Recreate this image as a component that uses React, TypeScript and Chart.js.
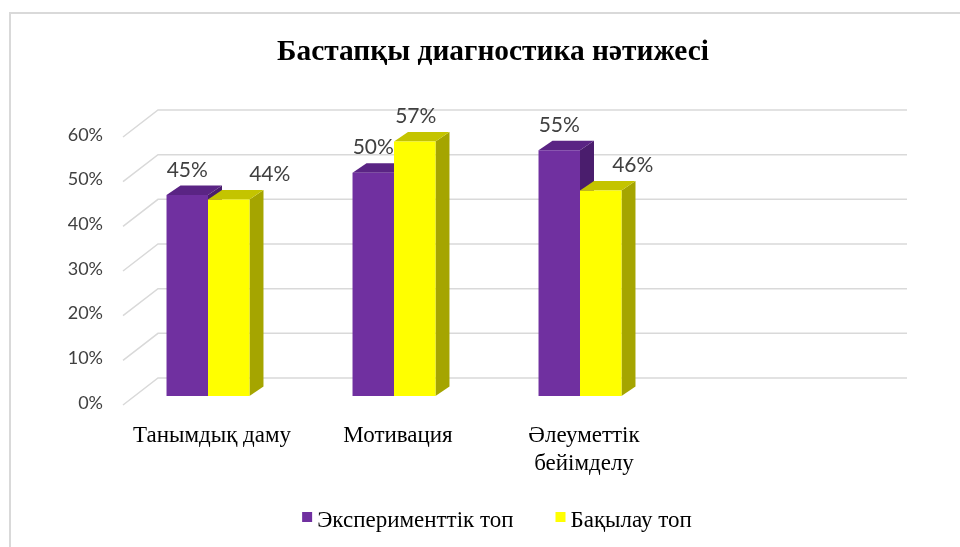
import { useEffect, useRef } from "react";
import { Chart, registerables } from "chart.js";

Chart.register(...registerables);

const TITLE = "Бастапқы диагностика нәтижесі";
const CATEGORIES: string[][] = [["Танымдық даму"], ["Мотивация"], ["Әлеуметтік", "бейімделу"], [""]];
const SERIES_NAMES = ["Эксперименттік топ", "Бақылау топ"];
const EXPERIMENTAL: (number | null)[] = [45, 50, 55, null];
const CONTROL: (number | null)[] = [44, 57, 46, null];
const Y_TICKS = [0, 10, 20, 30, 40, 50, 60];

const FRONT_COLORS = ["#7030A0", "#FFFF00"];
const TOP_COLORS = ["#5A2484", "#C4C400"];
const SIDE_COLORS = ["#4A1D6D", "#A5A500"];
// Excel label placement nudges (px) per series/category
const LABEL_SHIFT = [
  [0, 0, 0, 0],
  [41, 1, 32, 0],
];

const SERIF = '"Liberation Serif", "Times New Roman", serif';
const SANS = 'Lato, "Open Sans", sans-serif';

const excel3d = {
  id: "excel3d",
  beforeDatasetsDraw(chart: any) {
    const { ctx, chartArea: area, scales } = chart;
    const y = scales.y;
    const wallLeft = area.left + 43;
    const wallRight = area.right + 48;
    ctx.save();
    ctx.strokeStyle = "#D9D9D9";
    ctx.lineWidth = 1.5;
    Y_TICKS.forEach((v) => {
      const yb = y.getPixelForValue(v) - 18;
      ctx.beginPath();
      ctx.moveTo(wallLeft - 35, yb + 27);
      ctx.lineTo(wallLeft, yb);
      ctx.lineTo(wallRight, yb);
      ctx.stroke();
      ctx.fillStyle = "#404040";
      ctx.font = `18px ${SANS}`;
      ctx.textAlign = "right";
      ctx.textBaseline = "middle";
      ctx.fillText(`${v}%`, 103, yb + 25);
    });
    const D = 14;
    const H = 9.5;
    chart.data.datasets.forEach((ds: any, i: number) => {
      const meta = chart.getDatasetMeta(i);
      meta.data.forEach((el: any, j: number) => {
        if (ds.data[j] == null) return;
        const p = el.getProps(["x", "y", "base", "width"], true);
        const l = p.x - p.width / 2;
        const r = p.x + p.width / 2;
        ctx.fillStyle = SIDE_COLORS[i];
        ctx.beginPath();
        ctx.moveTo(r, p.y);
        ctx.lineTo(r + D, p.y - H);
        ctx.lineTo(r + D, p.base - H);
        ctx.lineTo(r, p.base);
        ctx.closePath();
        ctx.fill();
        ctx.fillStyle = TOP_COLORS[i];
        ctx.beginPath();
        ctx.moveTo(l, p.y);
        ctx.lineTo(l + D, p.y - H);
        ctx.lineTo(r + D, p.y - H);
        ctx.lineTo(r, p.y);
        ctx.closePath();
        ctx.fill();
      });
    });
    ctx.restore();
  },
  afterDatasetsDraw(chart: any) {
    const { ctx, scales } = chart;
    const x = scales.x;
    ctx.save();
    // data labels
    ctx.fillStyle = "#404040";
    ctx.font = `21px ${SANS}`;
    ctx.textAlign = "center";
    ctx.textBaseline = "middle";
    chart.data.datasets.forEach((ds: any, i: number) => {
      const meta = chart.getDatasetMeta(i);
      meta.data.forEach((el: any, j: number) => {
        const v = ds.data[j];
        if (v == null) return;
        ctx.fillText(`${v}%`, el.x + LABEL_SHIFT[i][j], el.y - 25);
      });
    });
    // category labels
    ctx.fillStyle = "#000000";
    ctx.font = `23px ${SERIF}`;
    CATEGORIES.forEach((lines, i) => {
      const cx = x.getPixelForValue(i) + 4;
      lines.forEach((t, k) => {
        ctx.fillText(t, cx, 436 + k * 28);
      });
    });
    // title
    ctx.font = `bold 29px ${SERIF}`;
    ctx.textBaseline = "alphabetic";
    const tw = ctx.measureText(TITLE).width;
    const target = 432;
    ctx.save();
    ctx.translate(493, 60);
    ctx.scale(target / tw, 1);
    ctx.fillText(TITLE, 0, 0);
    ctx.restore();
    // legend
    ctx.font = `23px ${SERIF}`;
    ctx.textAlign = "left";
    const widths = SERIES_NAMES.map((n) => ctx.measureText(n).width);
    const gap = 42;
    const total = widths.reduce((a, b) => a + b, 0) + SERIES_NAMES.length * 15 + (SERIES_NAMES.length - 1) * gap;
    let lx = 497 - total / 2;
    SERIES_NAMES.forEach((n, i) => {
      ctx.fillStyle = FRONT_COLORS[i];
      ctx.fillRect(lx, 512, 10, 10);
      ctx.fillStyle = "#000000";
      ctx.fillText(n, lx + 15, 527);
      lx += 15 + widths[i] + gap;
    });
    // chart frame
    ctx.strokeStyle = "#D9D9D9";
    ctx.lineWidth = 2;
    ctx.beginPath();
    ctx.moveTo(10, 560);
    ctx.lineTo(10, 13);
    ctx.lineTo(970, 13);
    ctx.stroke();
    ctx.restore();
  },
};

export default function App() {
  const ref = useRef<HTMLCanvasElement>(null);
  useEffect(() => {
    document.body.style.margin = "0";
    const chart = new Chart(ref.current as HTMLCanvasElement, {
      type: "bar",
      data: {
        labels: CATEGORIES.map((c) => c.join(" ")),
        datasets: [
          { label: SERIES_NAMES[0], data: EXPERIMENTAL, backgroundColor: FRONT_COLORS[0], borderWidth: 0, categoryPercentage: 0.446, barPercentage: 1 },
          { label: SERIES_NAMES[1], data: CONTROL, backgroundColor: FRONT_COLORS[1], borderWidth: 0, categoryPercentage: 0.446, barPercentage: 1 },
        ],
      },
      options: {
        responsive: false,
        maintainAspectRatio: false,
        animation: false,
        layout: { padding: { left: 115, right: 101, top: 128, bottom: 151 } },
        scales: {
          x: { display: false },
          y: { display: false, min: 0, max: 60 },
        },
        plugins: {
          legend: { display: false },
          title: { display: false },
          tooltip: { enabled: false },
        },
      },
      plugins: [excel3d],
    });
    return () => chart.destroy();
  }, []);
  return (
    <div style={{ position: "fixed", left: 0, top: 0, width: 960, height: 547, background: "#fff" }}>
      <canvas ref={ref} width={960} height={547} style={{ display: "block" }} />
    </div>
  );
}
